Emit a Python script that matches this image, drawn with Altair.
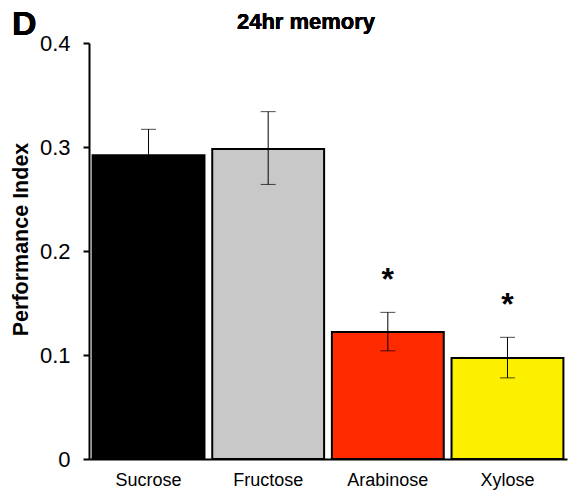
import altair as alt
import pandas as pd

categories = ["Sucrose", "Fructose", "Arabinose", "Xylose"]
means = [0.292, 0.298, 0.122, 0.097]
err_low = [0.267, 0.264, 0.104, 0.078]
err_high = [0.317, 0.334, 0.141, 0.117]
stars = ["", "", "*", "*"]
colors = ["#000000", "#c8c8c8", "#ff2a00", "#fcef00"]

df = pd.DataFrame({
    "sugar": categories,
    "mean": means,
    "lo": err_low,
    "hi": err_high,
    "star": stars,
})

FONT = "Liberation Sans"

x = alt.X("sugar:N", sort=categories,
          scale=alt.Scale(paddingInner=0.065, paddingOuter=0.03),
          axis=alt.Axis(title=None, ticks=False, labelAngle=0, labelFontSize=18,
                        labelFont=FONT, labelColor="black", labelPadding=12,
                        domainColor="black", domainWidth=2))

bars = alt.Chart(df).mark_bar(stroke="black", strokeWidth=2).encode(
    x=x,
    y=alt.Y("mean:Q", scale=alt.Scale(domain=[0, 0.4], nice=False),
            axis=alt.Axis(title="Performance Index", values=[0, 0.1, 0.2, 0.3, 0.4],
                          format="~g", grid=False, tickSize=6, tickWidth=2,
                          tickColor="black", domainColor="black", domainWidth=2,
                          labelFontSize=22, labelFont=FONT, labelColor="black",
                          labelPadding=13, titleFont=FONT, titleFontSize=21.5,
                          titleFontWeight="bold", titleColor="black",
                          titleX=-68, titleY=196, titleAngle=270,
                          titleAlign="center", titleBaseline="middle")),
    color=alt.Color("sugar:N", scale=alt.Scale(domain=categories, range=colors), legend=None),
)

rules = alt.Chart(df).mark_rule(color="black", strokeWidth=1).encode(
    x=alt.X("sugar:N", sort=categories), y="lo:Q", y2="hi:Q")

caps_hi = alt.Chart(df).mark_tick(color="black", thickness=1, size=15).encode(
    x=alt.X("sugar:N", sort=categories), y="hi:Q")
caps_lo = alt.Chart(df).mark_tick(color="black", thickness=1, size=15).encode(
    x=alt.X("sugar:N", sort=categories), y="lo:Q")

star_text = alt.Chart(df).mark_text(font=FONT, fontSize=32, fontWeight="bold",
                                    baseline="alphabetic", dy=-22, color="black").encode(
    x=alt.X("sugar:N", sort=categories), y="hi:Q", text="star:N")

panel = alt.Chart(df).mark_text(text="D", font=FONT, fontSize=34, fontWeight="bold",
                                align="left", baseline="alphabetic", color="black").encode(
    x=alt.value(-77), y=alt.value(-8))

title = alt.Chart(df).mark_text(text="24hr memory", font=FONT, fontSize=22, fontWeight="bold",
                                align="center", baseline="middle", color="black").encode(
    x=alt.value(217), y=alt.value(-21))

chart = alt.layer(bars, rules, caps_hi, caps_lo, star_text, panel, title).properties(
    width=478, height=416,
    autosize=alt.AutoSizeParams(type="none"),
    padding={"left": 89, "top": 43, "right": 6, "bottom": 39},
).configure_view(stroke=None)

chart.save("out.html", embed_options={"renderer": "svg", "actions": False})
